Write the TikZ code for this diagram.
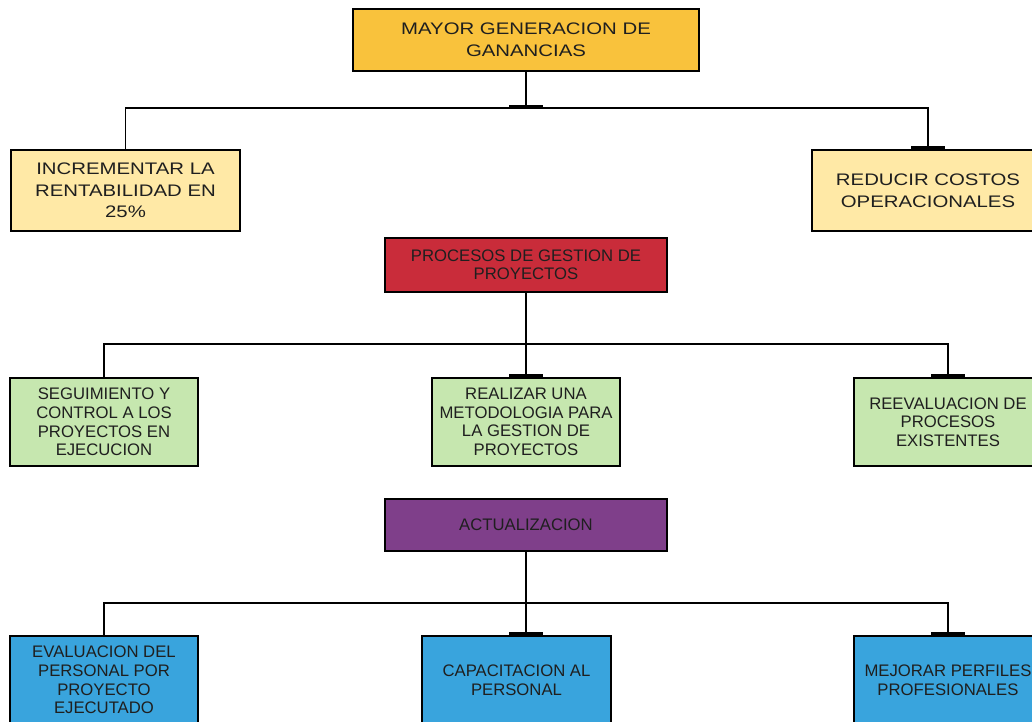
\documentclass[tikz,border=0pt]{standalone}
\usepackage{fontspec}
\setmainfont{Liberation Sans}
\newfontfamily\widefont{Liberation Sans}[FakeStretch=1.22]
\usetikzlibrary{positioning, arrows.meta}

\definecolor{oro}{HTML}{F9C23C}
\definecolor{crema}{HTML}{FFE9A6}
\definecolor{rojo}{HTML}{C92C3A}
\definecolor{verde}{HTML}{C6E7AF}
\definecolor{morado}{HTML}{7F3F8A}
\definecolor{azul}{HTML}{39A4DD}
\definecolor{tinta}{HTML}{1F1F1F}

\begin{document}
\begin{tikzpicture}
	[on grid, line width=0.85pt,
	 caja/.style={draw, line width=1pt, inner sep=0pt, align=center, text=tinta},
	 grande/.style={caja, font=\widefont\fontsize{9.5}{12.3}\selectfont, minimum height=1.62cm},
	 chica/.style={caja, font=\fontsize{9.5}{10.6}\selectfont, minimum width=3.76cm, minimum height=1.76cm},
	 titulo/.style={caja, font=\fontsize{9.5}{10}\selectfont, minimum width=5.64cm},
	 onebar/.tip={Rectangle[length=1.7pt, width=19pt]}]
   \clip (-10.52,0.8) rectangle (10.12,-13.62);
   \node[grande, fill=oro, minimum width=6.92cm, minimum height=1.24cm] (ganancias) at (0,0) {MAYOR GENERACION DE\\GANANCIAS};
   \node[grande, fill=crema, minimum width=4.58cm] (rentab) [below left=3.01cm and 8.01cm of ganancias] {INCREMENTAR LA\\RENTABILIDAD EN\\25\%};
   \node[grande, fill=crema, minimum width=4.64cm] (costos) [below right=3.01cm and 8.04cm of ganancias] {REDUCIR COSTOS\\OPERACIONALES};
   \node[titulo, fill=rojo, minimum height=1.08cm] (procesos) [below=4.5cm of ganancias] {PROCESOS DE GESTION DE\\PROYECTOS};
   \node[chica, fill=verde] (metod) [below=3.14cm of procesos] {REALIZAR UNA\\METODOLOGIA PARA\\LA GESTION DE\\PROYECTOS};
   \node[chica, fill=verde] (seguim) [left=8.44cm of metod] {SEGUIMIENTO Y\\CONTROL A LOS\\PROYECTOS EN\\EJECUCION};
   \node[chica, fill=verde] (reeval) [right=8.44cm of metod] {REEVALUACION DE\\PROCESOS\\EXISTENTES};
   \node[titulo, fill=morado, minimum height=1.04cm] (actual) [below=2.06cm of metod] {ACTUALIZACION};
   \node[chica, fill=azul, minimum width=3.78cm] (capac) [below=3.1cm of actual, xshift=-0.19cm] {CAPACITACION AL\\PERSONAL};
   \node[chica, fill=azul] (evalua) [below=5.16cm of seguim] {EVALUACION DEL\\PERSONAL POR\\PROYECTO\\EJECUTADO};
   \node[chica, fill=azul] (perfiles) [below=5.16cm of reeval] {MEJORAR PERFILES\\PROFESIONALES};
   \coordinate[below=0.72cm of ganancias.south] (j_1);
   \coordinate[below=1.02cm of procesos.south] (j_2);
   \coordinate[below=1.02cm of actual.south] (j_3);
   \draw (j_1) -| (rentab);
   \draw[-onebar] (j_1) -| (costos);
   \draw[-onebar] (ganancias) -- (j_1);
   \draw (j_2) -| (seguim);
   \draw[-onebar] (j_2) -| (reeval);
   \draw[-onebar] (procesos) -- (metod);
   \draw (j_3) -| (evalua);
   \draw[-onebar] (j_3) -| (perfiles);
   \draw[-onebar] (actual) -- (actual.south |- capac.north);
\end{tikzpicture}
\end{document}
